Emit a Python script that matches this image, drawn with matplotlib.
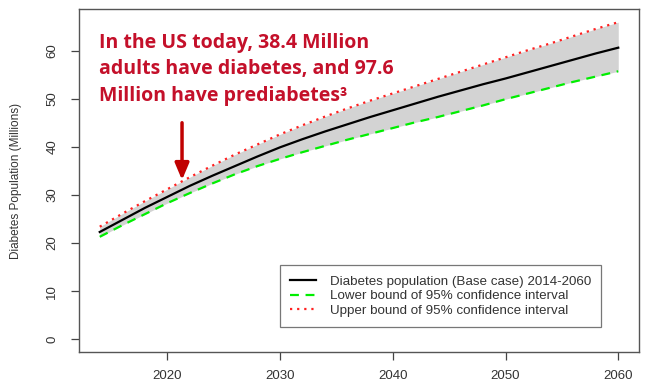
import matplotlib
matplotlib.use("Agg")
import matplotlib.pyplot as plt

# Projected diabetes population (millions), base case and 95% CI bounds
years = [2014, 2016, 2018, 2020, 2022, 2024, 2026, 2028, 2030, 2032, 2034, 2036,
         2038, 2040, 2042, 2044, 2046, 2048, 2050, 2052, 2054, 2056, 2058, 2060]
base = [22.3, 24.8, 27.3, 29.6, 31.9, 34.0, 36.0, 38.0, 39.9, 41.6, 43.2, 44.7,
        46.2, 47.6, 49.0, 50.4, 51.7, 53.0, 54.2, 55.5, 56.8, 58.1, 59.4, 60.6]
lower = [21.3, 23.7, 26.0, 28.3, 30.4, 32.4, 34.3, 36.0, 37.5, 38.9, 40.2, 41.5,
         42.7, 43.9, 45.1, 46.2, 47.4, 48.6, 49.9, 51.1, 52.3, 53.5, 54.6, 55.7]
upper = [23.4, 26.1, 28.7, 31.2, 33.7, 36.1, 38.4, 40.5, 42.6, 44.5, 46.3, 48.0,
         49.6, 51.1, 52.6, 54.1, 55.6, 57.1, 58.6, 60.1, 61.5, 63.0, 64.5, 65.9]

x_ticks = [2020, 2030, 2040, 2050, 2060]
y_ticks = [0, 10, 20, 30, 40, 50, 60]

legend_labels = [
    "Diabetes population (Base case) 2014-2060",
    "Lower bound of 95% confidence interval",
    "Upper bound of 95% confidence interval",
]
callout = "In the US today, 38.4 Million\nadults have diabetes, and 97.6\nMillion have prediabetes\u00b3"
arrow_year = 2021.3

plt.rcParams["font.family"] = ["Liberation Sans", "DejaVu Sans"]

fig = plt.figure(figsize=(6.46, 3.85), dpi=100)
ax = fig.add_axes([79 / 646, 1 - 352 / 385, 560 / 646, 343 / 385])

ax.fill_between(years, lower, upper, color="#d3d3d3", lw=0, zorder=1)
ax.plot(years, base, color="black", lw=1.6, zorder=3, label=legend_labels[0])
ax.plot(years, lower, color="#00ee00", lw=1.6, ls=(0, (4, 3)), zorder=3, label=legend_labels[1])
ax.plot(years, upper, color="#ff2020", lw=1.6, ls=(0, (1, 2.2)), zorder=3, label=legend_labels[2])

span_x = years[-1] - years[0]
ax.set_xlim(years[0] - 0.04 * span_x, years[-1] + 0.04 * span_x)
ax.set_ylim(0 - 0.04 * 66, 66 + 0.04 * 66)

ax.set_xticks(x_ticks)
ax.set_yticks(y_ticks)
ax.tick_params(axis="both", length=5.8, width=0.9, color="#444444", labelsize=9.5,
               labelcolor="#333333")
ax.tick_params(axis="x", pad=7)
ax.tick_params(axis="y", pad=9)
for lab in ax.get_yticklabels():
    lab.set_rotation(90)
    lab.set_va("center")

for s in ax.spines.values():
    s.set_color("#555555")
    s.set_linewidth(1.0)

ax.set_ylabel("Diabetes Population (Millions)", fontsize=8.5, color="#333333")
ax.yaxis.set_label_coords(-0.102, 0.5)

leg = ax.legend(loc="lower right", bbox_to_anchor=(522 / 560, 25 / 343), fontsize=9.6,
                frameon=True, fancybox=False, edgecolor="#555555", handlelength=2.0,
                handletextpad=1.0, borderpad=0.75, labelspacing=0.18, borderaxespad=0)
leg.get_frame().set_linewidth(0.9)
for t in leg.get_texts():
    t.set_color("#333333")

fig.text(99 / 646, 1 - 33 / 385, callout, color="#c4102a", fontsize=14,
         fontweight="bold", family=["Open Sans", "DejaVu Sans"], va="top", ha="left",
         linespacing=1.42)

ax.annotate("", xy=(arrow_year, 33.1), xytext=(arrow_year, 45.0),
            arrowprops=dict(arrowstyle="-|>,head_length=1.0,head_width=0.42",
                            color="#c00000", lw=2.5, shrinkA=0, shrinkB=0), zorder=5)

fig.savefig("out.png", dpi=100)
